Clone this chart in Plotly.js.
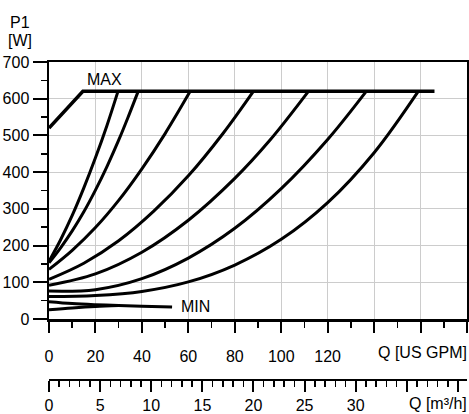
<!DOCTYPE html>
<html><head><meta charset="utf-8">
<script src="https://cdn.plot.ly/plotly-3.0.1.min.js"></script>
<style>html,body{margin:0;padding:0;background:#fff}#chart{width:469px;height:414px}</style>
</head><body><div id="chart"></div>
<script>
// ---- data (Q in US GPM, P1 in W) ----
const maxQ = [0, 14.6, 166];
const maxP = [520, 620, 620];

const c1Q = [0, 5, 10, 15, 20, 25, 29.7];
const c1P = [157, 216, 282, 357, 439, 528, 620];
const c2Q = [0, 5, 10, 15, 20, 25, 30, 34.2, 38.4];
const c2P = [153, 194, 240, 292, 351, 416, 487, 552, 620];
const c3Q = [0, 10, 20, 30, 40, 50, 60.8];
const c3P = [135, 187, 249, 323, 409, 505, 620];
const c4Q = [0, 15, 30, 45, 60, 75, 88];
const c4P = [108, 152, 213, 293, 390, 506, 620];
const c5Q = [0, 20, 40, 60, 80, 95, 111.7];
const c5P = [92, 123, 182, 269, 383, 486, 620];
const c6Q = [0, 20, 40, 60, 80, 100, 120, 136.6];
const c6P = [76, 80, 110, 166, 247, 355, 489, 620];
const c7Q = [0, 20, 40, 60, 80, 100, 120, 140, 159];
const c7P = [61, 64, 75, 101, 147, 217, 317, 453, 620];
const minUpQ = [0, 10, 20, 30, 40, 53];
const minUpP = [47, 42, 39, 37, 35, 33];
const minLoQ = [0, 10, 20, 30];
const minLoP = [25, 30, 34, 36.5];

const gpmTicks = [0, 20, 40, 60, 80, 100, 120, 140, 160, 180];
const gpmLabels = ['0', '20', '40', '60', '80', '100', '120', '', '', ''];
const m3hTicks = [0, 5, 10, 15, 20, 25, 30, 35, 40];
const m3hLabels = ['0', '5', '10', '15', '20', '25', '30', '', ''];
const GPM_PER_M3H = 4.40287;

const curves = [[maxQ, maxP, 3.5], [c1Q, c1P, 3], [c2Q, c2P, 3], [c3Q, c3P, 3], [c4Q, c4P, 3],
  [c5Q, c5P, 3], [c6Q, c6P, 3], [c7Q, c7P, 3], [minUpQ, minUpP, 3], [minLoQ, minLoP, 3]];

const traces = curves.map((c, i) => ({
  x: c[0], y: c[1], type: 'scatter', mode: 'lines',
  line: {color: '#000', width: c[2], shape: i === 0 ? 'linear' : 'spline', smoothing: 1},
  hoverinfo: 'skip', showlegend: false
}));
traces.push({x: [], y: [], xaxis: 'x2', yaxis: 'y', type: 'scatter', mode: 'lines', showlegend: false});

const F = {family: 'Liberation Sans, Arial, sans-serif', size: 16, color: '#000'};
const layout = {
  width: 469, height: 414,
  margin: {l: 49, r: 2, t: 62, b: 34},
  paper_bgcolor: '#fff', plot_bgcolor: '#fff',
  font: F, showlegend: false,
  xaxis: {
    range: [0, 180], anchor: 'y', tickmode: 'array', tickvals: gpmTicks, ticktext: gpmLabels,
    ticks: 'outside', ticklen: 11, tickwidth: 2, tickcolor: '#000',
    showline: true, linewidth: 2.5, linecolor: '#000', mirror: true,
    showgrid: true, gridcolor: '#cccccc', gridwidth: 1, zeroline: false,
    minor: {tickmode: 'linear', tick0: 0, dtick: 10, ticks: 'outside', ticklen: 6, tickwidth: 1.5, tickcolor: '#000', showgrid: false},
    tickfont: F, ticklabelstandoff: 10
  },
  xaxis2: {
    overlaying: 'x', anchor: 'free', position: 0, side: 'bottom',
    range: [0, 180 / GPM_PER_M3H], tickmode: 'array', tickvals: m3hTicks, ticktext: m3hLabels,
    ticks: 'outside', ticklen: 11, tickwidth: 2, tickcolor: '#000',
    showline: true, linewidth: 2, linecolor: '#000', showgrid: false, zeroline: false,
    minor: {tickmode: 'linear', tick0: 0, dtick: 1, ticks: 'outside', ticklen: 6, tickwidth: 1.5, tickcolor: '#000', showgrid: false},
    tickfont: F, ticklabelstandoff: 0
  },
  yaxis: {
    range: [0, 700], domain: [0.1918, 1], dtick: 100, tick0: 0,
    ticks: 'outside', ticklen: 14, tickwidth: 2, tickcolor: '#000',
    showline: true, linewidth: 2.5, linecolor: '#000', mirror: true,
    showgrid: true, gridcolor: '#cccccc', gridwidth: 1, zeroline: false,
    minor: {dtick: 50, ticks: 'outside', ticklen: 6, tickwidth: 1.5, tickcolor: '#000', showgrid: false},
    tickfont: F
  },
  annotations: [
    {text: 'P1', xref: 'paper', yref: 'paper', x: 0, y: 1, xanchor: 'center', yanchor: 'middle', xshift: -29, yshift: 40, showarrow: false, font: F},
    {text: '[W]', xref: 'paper', yref: 'paper', x: 0, y: 1, xanchor: 'center', yanchor: 'middle', xshift: -29, yshift: 22, showarrow: false, font: F},
    {text: 'MAX', xref: 'x', yref: 'y', x: 23.7, y: 651, showarrow: false, font: F},
    {text: 'MIN', xref: 'x', yref: 'y', x: 62.9, y: 33.5, showarrow: false, font: F},
    {text: 'Q [US GPM]', xref: 'paper', yref: 'paper', x: 1, y: 0, xanchor: 'right', yanchor: 'middle', xshift: 2, yshift: 28, showarrow: false, font: F},
    {text: 'Q [m³/h]', xref: 'paper', yref: 'paper', x: 1, y: 0, xanchor: 'right', yanchor: 'middle', xshift: 2, yshift: -23, showarrow: false, font: F}
  ]
};
Plotly.newPlot('chart', traces, layout, {staticPlot: true, displayModeBar: false});
</script></body></html>
